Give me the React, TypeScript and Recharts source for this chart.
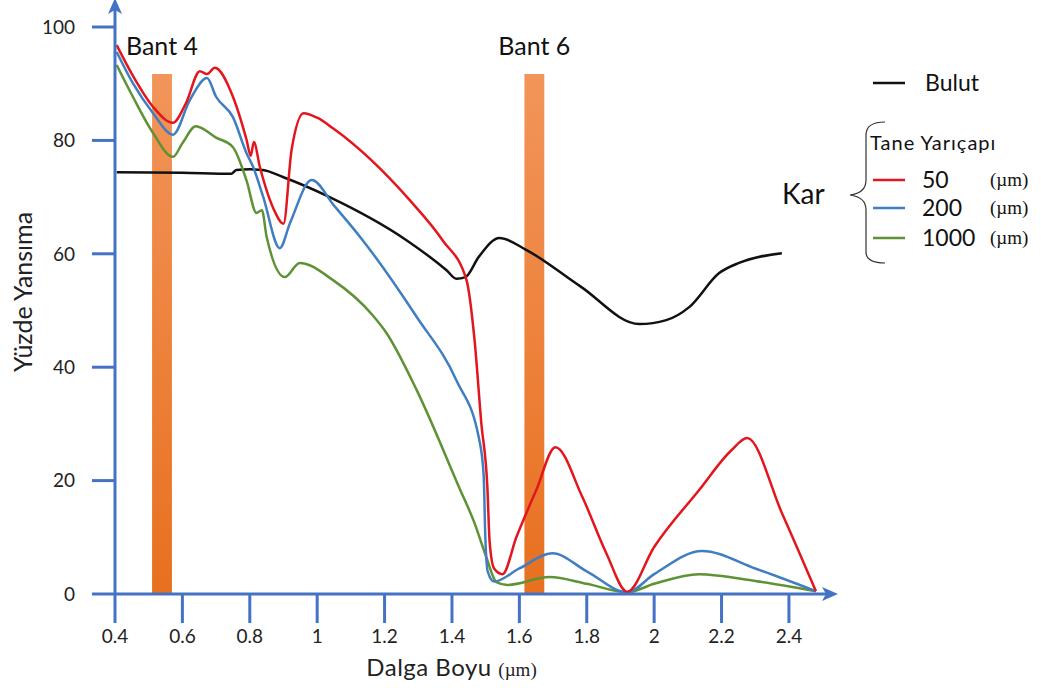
import React from "react";
import {
  LineChart,
  Line,
  XAxis,
  YAxis,
  ReferenceArea,
  Legend,
} from "recharts";

// wavelength (µm) / reflectance (%) pairs
const bulut: [number, number][] = [
  [0.405, 74.4], [0.6, 74.3], [0.745, 74.1], [0.76, 74.8], [0.8, 74.9],
  [0.838, 74.8], [0.9, 73.5], [1.037, 70], [1.265, 62.4], [1.384, 57.1],
  [1.413, 55.6], [1.44, 55.9], [1.48, 59.5], [1.541, 62.8], [1.62, 60.7],
  [1.78, 54.3], [1.956, 47.6], [2.036, 48.3], [2.104, 50.6], [2.193, 56.6],
  [2.252, 58.4], [2.379, 60.1],
];

const kar50: [number, number][] = [
  [0.405, 96.8], [0.455, 91.2], [0.513, 85.9], [0.572, 83.1], [0.61, 86.5],
  [0.652, 92.2], [0.673, 91.7], [0.696, 92.8], [0.75, 87.7], [0.79, 80.2],
  [0.803, 77.3], [0.812, 79.7], [0.83, 75.3], [0.87, 68], [0.9, 65.3],
  [0.924, 78.3], [0.96, 84.8], [1.0, 84], [1.05, 82], [1.274, 69.5],
  [1.372, 62.4], [1.443, 55.4], [1.467, 44.8], [1.487, 30.2], [1.505, 18.9],
  [1.512, 9], [1.525, 4.5], [1.55, 3.5], [1.591, 10], [1.65, 18.3],
  [1.707, 25.9], [1.787, 17.1], [1.858, 7.2], [1.92, 0.4], [2.0, 8.3],
  [2.133, 18.3], [2.23, 25.4], [2.276, 27.5], [2.379, 14.3], [2.48, 0.5],
];

const kar200: [number, number][] = [
  [0.405, 95.6], [0.453, 90.1], [0.513, 84.8], [0.572, 81], [0.622, 87.1],
  [0.673, 91], [0.7, 87.7], [0.75, 84.1], [0.79, 77.8], [0.81, 75.3],
  [0.84, 70], [0.889, 61], [0.92, 65.5], [0.984, 73], [1.05, 68.5],
  [1.135, 62.4], [1.295, 48.9], [1.413, 37.7], [1.481, 27.2], [1.494, 21],
  [1.499, 10], [1.506, 4], [1.525, 2.2], [1.6, 4.5], [1.698, 7.2],
  [1.8, 4], [1.92, 0.3], [2.0, 3.5], [2.142, 7.6], [2.3, 4.5], [2.48, 0.5],
];

const kar1000: [number, number][] = [
  [0.405, 93.3], [0.453, 87.7], [0.513, 81.3], [0.572, 77.1], [0.6, 79.5],
  [0.64, 82.5], [0.7, 80.5], [0.75, 78.8], [0.79, 73], [0.82, 67.2],
  [0.836, 67.7], [0.85, 63], [0.904, 55.9], [0.948, 58.4], [1.046, 55.4],
  [1.164, 49.2], [1.206, 46], [1.295, 36], [1.422, 18.7], [1.467, 12.5],
  [1.502, 6.5], [1.532, 2.1], [1.564, 1.6], [1.689, 3], [1.8, 1.8],
  [1.92, 0.3], [2.0, 1.8], [2.133, 3.5], [2.3, 2.3], [2.48, 0.5],
];

const xTicks = [0.4, 0.6, 0.8, 1, 1.2, 1.4, 1.6, 1.8, 2, 2.2, 2.4];
const yTicks = [0, 20, 40, 60, 80, 100];

// satellite bands: [from, to] in µm, bar height in %
const bant4 = [0.51, 0.569];
const bant6 = [1.615, 1.674];
const bandTop = 91.7;

const toPts = (pairs: [number, number][]) =>
  pairs.map(([x, y]) => ({ x, y }));

const FONT = "Lato, 'Open Sans', sans-serif";
const SERIF = "'Liberation Serif', 'DejaVu Serif', serif";
const AXIS = "#4472C4";
const RED = "#E3161D";
const BLUE = "#3F7EC0";
const GREEN = "#5E9235";

const LegendBox = () => (
  <svg width={271} height={220} style={{ display: "block" }}>
    <line x1={103} y1={23} x2={135} y2={23} stroke="#111" strokeWidth={2.5} />
    <text x={155} y={31} fontFamily={FONT} fontSize={23} fill="#111">
      Bulut
    </text>
    <text x={12} y={144} fontFamily={FONT} fontSize={28} fill="#111">
      Kar
    </text>
    <path
      d="M115 62 Q96 62 96 75 L96 120 Q96 133 80 135 Q96 137 96 150 L96 192 Q96 203 115 203"
      fill="none"
      stroke="#333"
      strokeWidth={1.2}
    />
    <text
      x={100}
      y={90}
      fontFamily={FONT}
      fontSize={20}
      letterSpacing={1}
      fill="#111"
    >
      Tane Yarıçapı
    </text>
    {[
      { c: RED, t: "50", y: 120 },
      { c: BLUE, t: "200", y: 148 },
      { c: GREEN, t: "1000", y: 178 },
    ].map((r) => (
      <g key={r.t}>
        <line x1={103} y1={r.y} x2={135} y2={r.y} stroke={r.c} strokeWidth={2.5} />
        <text x={152} y={r.y + 8} fontFamily={FONT} fontSize={23} fill="#111">
          {r.t}
        </text>
        <text x={220} y={r.y + 6} fontFamily={SERIF} fontSize={19} fill="#111">
          (µm)
        </text>
      </g>
    ))}
  </svg>
);

export default function App() {
  return (
    <div
      style={{
        position: "absolute",
        left: 0,
        top: 0,
        width: 1041,
        height: 690,
        background: "#fff",
      }}
    >
      <LineChart
        width={1041}
        height={690}
        margin={{ top: 10, right: 215, bottom: 0, left: 0 }}
      >
        <defs>
          <marker
            id="arrowHead"
            markerUnits="userSpaceOnUse"
            markerWidth={16}
            markerHeight={14}
            refX={4}
            refY={7}
            orient="auto-start-reverse"
          >
            <path d="M0,0 L16,7 L0,14 L4,7 z" fill={AXIS} />
          </marker>
          <linearGradient id="bandFill" x1="0" y1="0" x2="0" y2="1">
            <stop offset="0%" stopColor="#F2955A" />
            <stop offset="100%" stopColor="#E8701F" />
          </linearGradient>
        </defs>
        <XAxis
          type="number"
          dataKey="x"
          domain={[0.4, 2.51]}
          ticks={xTicks}
          allowDataOverflow
          height={96}
          tickSize={29}
          tickMargin={7}
          axisLine={{ stroke: AXIS, strokeWidth: 3, markerEnd: "url(#arrowHead)" }}
          tickLine={{ stroke: AXIS, strokeWidth: 3 }}
          tick={{ fontFamily: FONT, fontSize: 19, fill: "#222" }}
          label={{
            position: "insideBottom",
            content: ({ viewBox }: any) => (
              <text
                x={viewBox.x + viewBox.width / 2 - 19}
                y={viewBox.y + 82}
                textAnchor="middle"
                fill="#222"
              >
                <tspan fontFamily={FONT} fontSize={24} letterSpacing={0.5}>
                  Dalga Boyu{" "}
                </tspan>
                <tspan fontFamily={SERIF} fontSize={19}>
                  (µm)
                </tspan>
              </text>
            ),
          }}
        />
        <YAxis
          type="number"
          domain={[0, 103]}
          ticks={yTicks}
          allowDataOverflow
          width={115}
          tickSize={23}
          tickMargin={17}
          axisLine={{ stroke: AXIS, strokeWidth: 3, markerStart: "url(#arrowHead)" }}
          tickLine={{ stroke: AXIS, strokeWidth: 3 }}
          tick={{ fontFamily: FONT, fontSize: 19, fill: "#222" }}
          label={{
            position: "insideLeft",
            content: ({ viewBox }: any) => (
              <text
                x={22}
                y={viewBox.y + viewBox.height / 2 - 10}
                transform={`rotate(-90 22 ${viewBox.y + viewBox.height / 2 - 10})`}
                textAnchor="middle"
                dominantBaseline="central"
                fontFamily={FONT}
                fontSize={25}
                fill="#222"
              >
                Yüzde Yansıma
              </text>
            ),
          }}
        />
        <ReferenceArea
          x1={bant4[0]}
          x2={bant4[1]}
          y1={0}
          y2={bandTop}
          fill="url(#bandFill)"
          fillOpacity={1}
          stroke="none"
          label={{
            value: "Bant 4",
            position: "top",
            offset: 19,
            fontFamily: FONT,
            fontSize: 25,
            fill: "#111",
          }}
        />
        <ReferenceArea
          x1={bant6[0]}
          x2={bant6[1]}
          y1={0}
          y2={bandTop}
          fill="url(#bandFill)"
          fillOpacity={1}
          stroke="none"
          label={{
            value: "Bant 6",
            position: "top",
            offset: 19,
            fontFamily: FONT,
            fontSize: 25,
            fill: "#111",
          }}
        />
        <Line
          data={toPts(bulut)}
          dataKey="y"
          type="monotone"
          stroke="#111"
          strokeWidth={2.5}
          dot={false}
          isAnimationActive={false}
        />
        <Line
          data={toPts(kar1000)}
          dataKey="y"
          type="monotone"
          stroke={GREEN}
          strokeWidth={2.5}
          dot={false}
          isAnimationActive={false}
        />
        <Line
          data={toPts(kar200)}
          dataKey="y"
          type="monotone"
          stroke={BLUE}
          strokeWidth={2.5}
          dot={false}
          isAnimationActive={false}
        />
        <Line
          data={toPts(kar50)}
          dataKey="y"
          type="monotone"
          stroke={RED}
          strokeWidth={2.5}
          dot={false}
          isAnimationActive={false}
        />
        <Legend
          layout="vertical"
          align="center"
          verticalAlign="middle"
          content={() => <LegendBox />}
          wrapperStyle={{ position: "absolute", left: 770, top: 60, width: 271 }}
        />
      </LineChart>
    </div>
  );
}
